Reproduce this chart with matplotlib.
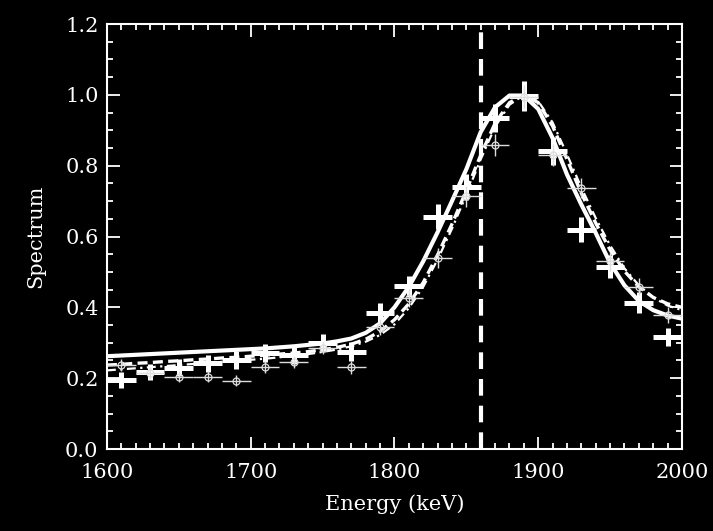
import matplotlib
matplotlib.use("Agg")
import matplotlib.pyplot as plt
from matplotlib.ticker import MultipleLocator

# ---- data ----
pt_energy = [1610, 1630, 1650, 1670, 1690, 1710, 1730, 1750, 1770, 1790,
             1810, 1830, 1850, 1870, 1890, 1910, 1930, 1950, 1970, 1990]
thick_y = [0.195, 0.218, 0.230, 0.242, 0.251, 0.272, 0.265, 0.299, 0.275, 0.383,
           0.459, 0.656, 0.740, 0.934, 0.997, 0.842, 0.619, 0.515, 0.413, 0.317]
thick_yerr = [0.023, 0.023, 0.024, 0.024, 0.025, 0.025, 0.025, 0.026, 0.026, 0.028,
              0.030, 0.035, 0.037, 0.040, 0.042, 0.039, 0.035, 0.032, 0.029, 0.026]
thin_y = [0.237, 0.215, 0.204, 0.204, 0.193, 0.232, 0.247, 0.285, 0.231, 0.345,
          0.426, 0.539, 0.713, 0.859, 0.995, 0.830, 0.736, 0.530, 0.458, 0.378]
thin_yerr = [0.016, 0.016, 0.016, 0.016, 0.016, 0.017, 0.017, 0.018, 0.018, 0.022,
             0.025, 0.028, 0.031, 0.031, 0.033, 0.031, 0.028, 0.026, 0.024, 0.022]
xerr_keV = 10

curve_energy = list(range(1600, 2001, 10))
solid_curve = [0.262, 0.264, 0.266, 0.268, 0.270, 0.272, 0.274, 0.276, 0.278, 0.280,
               0.282, 0.284, 0.287, 0.290, 0.294, 0.298, 0.304, 0.312, 0.328, 0.355,
               0.400, 0.458, 0.530, 0.612, 0.700, 0.790, 0.895, 0.965, 0.998, 0.998,
               0.960, 0.878, 0.775, 0.690, 0.610, 0.525, 0.462, 0.418, 0.392, 0.377,
               0.368]
dashed_curve = [0.237, 0.239, 0.242, 0.244, 0.247, 0.249, 0.252, 0.254, 0.257, 0.259,
                0.262, 0.265, 0.268, 0.271, 0.275, 0.280, 0.287, 0.296, 0.310, 0.332,
                0.365, 0.410, 0.470, 0.548, 0.635, 0.730, 0.830, 0.920, 0.978, 1.000,
                0.978, 0.912, 0.818, 0.722, 0.638, 0.562, 0.502, 0.458, 0.428, 0.410,
                0.400]
dashdot_curve = [0.222, 0.225, 0.228, 0.231, 0.234, 0.237, 0.240, 0.243, 0.246, 0.249,
                 0.252, 0.255, 0.259, 0.263, 0.268, 0.274, 0.281, 0.290, 0.303, 0.322,
                 0.352, 0.398, 0.458, 0.535, 0.622, 0.718, 0.818, 0.910, 0.972, 1.000,
                 0.982, 0.922, 0.832, 0.738, 0.652, 0.575, 0.510, 0.462, 0.428, 0.405,
                 0.392]
line_energy = 1860

xticks = [1600, 1700, 1800, 1900, 2000]
yticks = [0.0, 0.2, 0.4, 0.6, 0.8, 1.0, 1.2]

# ---- figure ----
plt.rcParams['font.family'] = ['DejaVu Serif']
fig = plt.figure(figsize=(7.13, 5.31), dpi=100, facecolor='black')
ax = fig.add_axes([0.150, 0.1544, 0.8065, 0.8004], facecolor='black')

ax.plot(curve_energy, solid_curve, color='white', lw=3.0, solid_capstyle='round', zorder=3)
ax.plot(curve_energy, dashed_curve, color='white', lw=2.4, dashes=(3.0, 1.6), zorder=3)
ax.plot(curve_energy, dashdot_curve, color='white', lw=1.6, dashes=(4.0, 2.0, 1.0, 2.0), zorder=3)

ax.errorbar(pt_energy, thick_y, xerr=xerr_keV, yerr=thick_yerr, fmt='none',
            ecolor='white', elinewidth=3.6, capsize=0, zorder=4)
ax.errorbar(pt_energy, thin_y, xerr=xerr_keV, yerr=thin_yerr, fmt='o',
            mfc='none', mec='#dddddd', mew=0.9, ms=5, ecolor='#dddddd',
            elinewidth=1.0, capsize=0, zorder=5)

ax.axvline(line_energy, color='white', lw=3.0, dashes=(4.0, 2.4), zorder=2)

ax.set_xlim(1600, 2000)
ax.set_ylim(0.0, 1.2)
ax.set_xticks(xticks)
ax.set_yticks(yticks)
ax.set_xticklabels([str(v) for v in xticks])
ax.set_yticklabels([f"{v:.1f}" for v in yticks])
ax.xaxis.set_minor_locator(MultipleLocator(10))
ax.yaxis.set_minor_locator(MultipleLocator(0.05))

for sp in ax.spines.values():
    sp.set_color('white')
    sp.set_linewidth(1.5)
ax.tick_params(which='both', direction='in', colors='white', top=True, right=True,
               width=1.3, labelsize=15)
ax.tick_params(which='major', length=9)
ax.tick_params(which='minor', length=4.5)
ax.tick_params(axis='x', which='major', pad=10)
ax.tick_params(axis='y', which='major', pad=6)

ax.set_xlabel('Energy (keV)', color='white', fontsize=15, labelpad=9)
ax.set_ylabel('Spectrum', color='white', fontsize=15, labelpad=14)

fig.savefig('out.png', dpi=100, facecolor='black')
